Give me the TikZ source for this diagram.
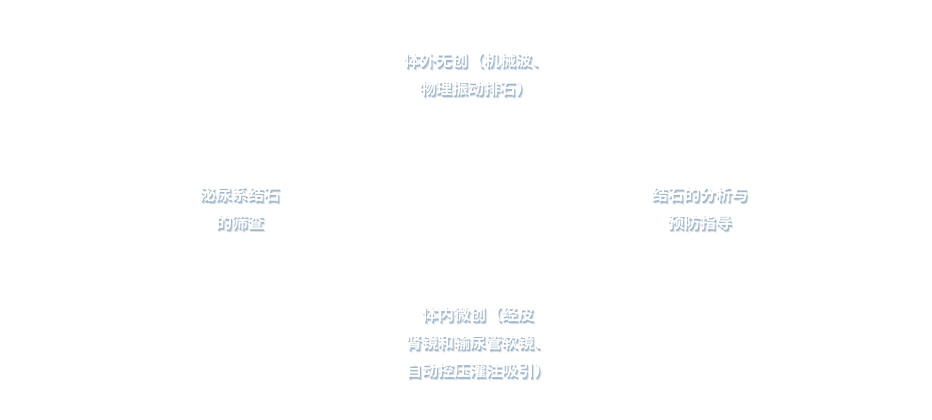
\documentclass[tikz,border=0pt]{standalone}
\usepackage{fontspec}
\usepackage{xcolor}
\newfontfamily\cjk{Noto Sans CJK SC}[BoldFont={Noto Sans CJK SC Bold}]
\usetikzlibrary{positioning}
\definecolor{shadeblue}{HTML}{A3B7C9}
\definecolor{haloblue}{HTML}{D8E2EB}

% white text with a soft blue drop shadow
\newcommand{\shadowtxt}[1]{\leavevmode
  \rlap{\hspace{2.2pt}\raisebox{-2.2pt}{\textcolor{haloblue}{#1}}}%
  \rlap{\hspace{1.1pt}\raisebox{-1.1pt}{\textcolor{shadeblue}{#1}}}%
  #1}

\begin{document}
\begin{tikzpicture}[x=1pt, y=-1pt,
  label/.style={align=center, inner sep=0pt, text=white,
                font=\cjk\bfseries\fontsize{16}{28}\selectfont}
]
  \useasboundingbox (0,0) rectangle (932,420);

  \node[label] (top)    at (476,76)  {\shadowtxt{体外无创（机械波、}\\\shadowtxt{物理振动排石）}};
  \node[label] (left)   at (240,210) {\shadowtxt{泌尿系结石}\\\shadowtxt{的筛查}};
  \node[label] (right)  at (700,210) {\shadowtxt{结石的分析与}\\\shadowtxt{预防指导}};
  \node[label] (bottom) at (478,344) {\shadowtxt{体内微创（经皮}\\\shadowtxt{肾镜和输尿管软镜、}\\\shadowtxt{自动控压灌注吸引）}};
\end{tikzpicture}
\end{document}
